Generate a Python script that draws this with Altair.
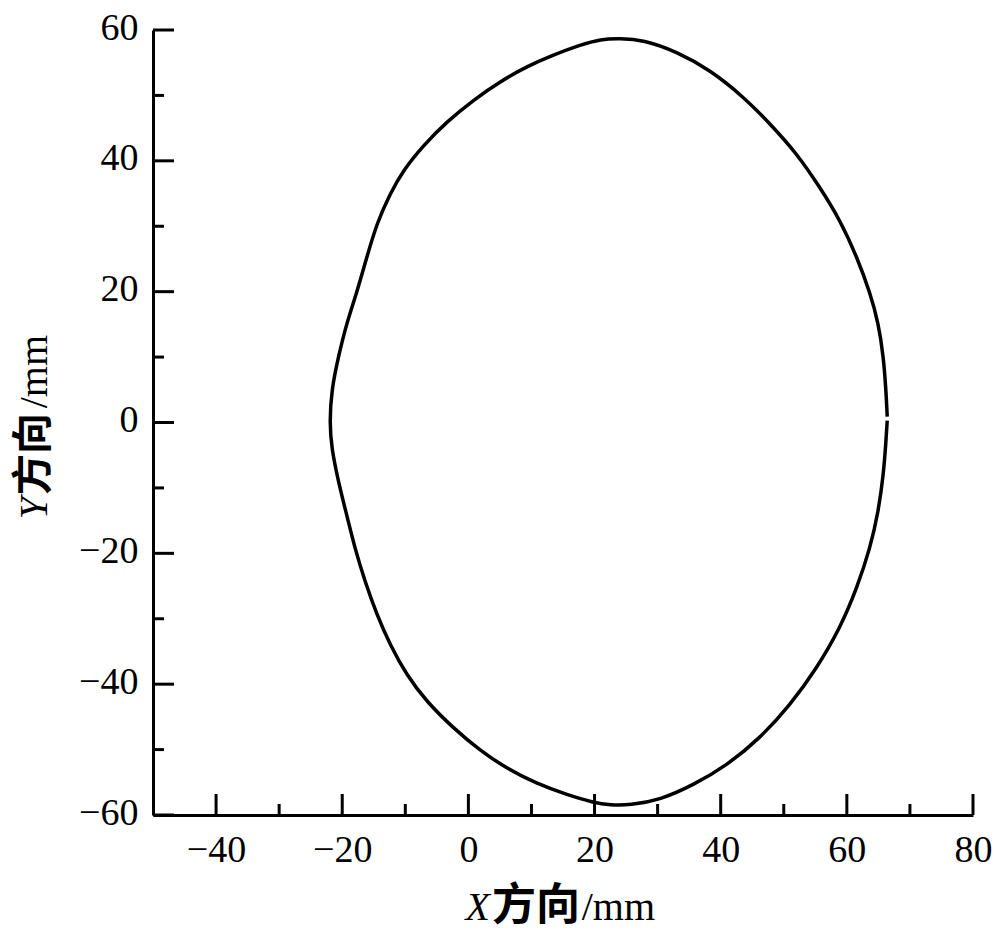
import altair as alt
import pandas as pd

# Outline of the section (mm), traced counter-clockwise from the right side
curve_x = [66.4, 66.2, 65.8, 65.0, 63.7, 61.6, 58.9, 55.7, 52.0, 47.8, 43.6, 38.3, 33.0, 27.7,
           24.0, 21.0, 17.7, 13.5, 9.2, 5.0, 0.8, -3.4, -7.1, -10.3, -12.4, -14.5, -16.1, -17.7,
           -19.3, -20.6, -21.7, -22.0, -21.7, -20.6, -19.3, -18.0, -16.4, -14.5, -12.4, -9.8,
           -6.6, -2.4, 1.8, 6.1, 10.8, 15.6, 19.8, 22.5, 25.6, 30.4, 35.7, 41.0, 46.2, 51.0,
           55.2, 58.9, 61.6, 63.7, 65.0, 65.8, 66.2, 66.4]
curve_y = [0.9, 5.0, 10.1, 15.2, 19.8, 25.3, 31.0, 36.0, 41.2, 45.7, 49.8, 53.9, 56.7, 58.5,
           58.7, 58.6, 57.7, 56.2, 54.4, 52.1, 49.3, 46.0, 42.4, 38.6, 35.0, 30.5, 25.3, 19.8,
           15.2, 10.1, 5.0, 0.0, -3.9, -9.1, -14.1, -19.2, -24.3, -29.4, -34.0, -38.6,
           -42.7, -46.7, -50.1, -52.9, -55.2, -56.9, -58.1, -58.5, -58.5, -57.7, -55.4, -52.4,
           -48.3, -43.2, -37.6, -31.5, -25.3, -19.2, -13.6, -8.0, -2.9, 0.3]

x_major = [-40, -20, 0, 20, 40, 60, 80]
x_minor = [-30, -10, 10, 30, 50, 70]
y_major = [-60, -40, -20, 0, 20, 40, 60]
y_minor = [-50, -30, -10, 10, 30, 50]

W, H = 820, 785
SERIF = "Liberation Serif"
CJK = "Noto Sans CJK SC"

curve = pd.DataFrame({"x": curve_x, "y": curve_y, "i": list(range(len(curve_x)))})

xs = alt.Scale(domain=[-50, 80], nice=False, zero=False)
ys = alt.Scale(domain=[-60, 60], nice=False, zero=False)

x_axis = alt.Axis(
    values=x_major, title=None, labelPadding=16, labelFlush=False, labelOverlap=False,
    labelExpr="datum.value < 0 ? datum.label + '\u2002' : datum.label")
y_axis = alt.Axis(
    values=y_major, title=None, labelPadding=15, labelFlush=False, labelOverlap=False,
    labelOffset=-2)

line = alt.Chart(curve).mark_line(
    color="black", strokeWidth=3.5, interpolate="basis"
).encode(
    x=alt.X("x:Q", scale=xs, axis=x_axis),
    y=alt.Y("y:Q", scale=ys, axis=y_axis),
    order="i:Q",
)


def xticks(vals, length):
    return alt.Chart(pd.DataFrame({"x": vals})).mark_rule(color="black", strokeWidth=3).encode(
        x=alt.X("x:Q", scale=xs, axis=x_axis), y=alt.value(H), y2=alt.value(H - length))


def yticks(vals, length):
    return alt.Chart(pd.DataFrame({"y": vals})).mark_rule(color="black", strokeWidth=3).encode(
        y=alt.Y("y:Q", scale=ys, axis=y_axis), x=alt.value(0), x2=alt.value(length))


def txt(s, px, py, size=40, **kw):
    return alt.Chart(alt.Data(values=[{}])).mark_text(
        text=s, color="black", fontSize=size, baseline="alphabetic", **kw
    ).encode(x=alt.value(px), y=alt.value(py))


titles = [
    txt("X", 337, 890, font=SERIF, fontStyle="italic", align="right"),
    txt("方向", 339, 890, size=44, font=CJK, fontWeight="bold", align="left"),
    txt("/mm", 502, 890, font=SERIF, align="right"),
    txt("Y", -106, 467, font=SERIF, fontStyle="italic", align="right", angle=270),
    txt("方向", -106, 465, size=41, font=CJK, fontWeight="bold", align="left", angle=270),
    txt("/mm", -106, 305, font=SERIF, align="right", angle=270),
]

chart = alt.layer(
    line, xticks(x_major, 21), xticks(x_minor, 11), yticks(y_major, 21), yticks(y_minor, 11),
    *titles
).properties(
    width=W, height=H,
    autosize=alt.AutoSizeParams(type="none"),
    padding={"left": 145, "top": 22, "right": 19, "bottom": 118},
    background="white",
).configure_view(stroke=None).configure_axis(
    domainColor="black", domainWidth=3, ticks=False, grid=False,
    labelFont=SERIF, labelFontSize=38, labelColor="black",
)

chart.save("out.html", embed_options={"renderer": "svg", "actions": False})
